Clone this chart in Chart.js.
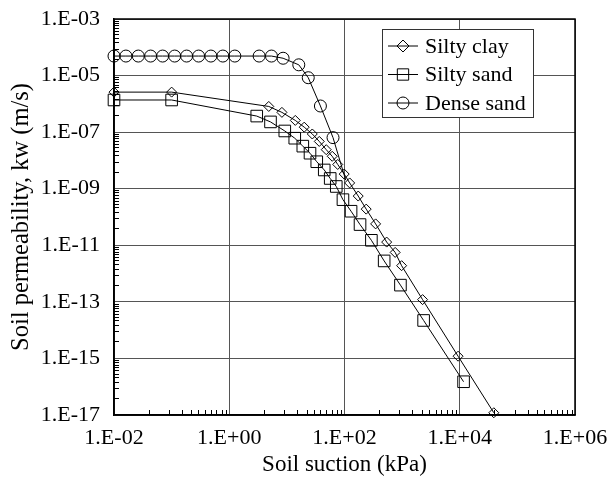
<!DOCTYPE html>
<html>
<head>
<meta charset="utf-8">
<title>Soil permeability vs soil suction</title>
<script src="https://cdn.jsdelivr.net/npm/chart.js@4/dist/chart.umd.min.js"></script>
<style>
  html, body { margin: 0; padding: 0; background: #fff; }
  #wrap { width: 609px; height: 480px; }
</style>
</head>
<body>
<div id="wrap"><canvas id="permChart"></canvas></div>
<script>
// values (suction in kPa, kw in m/s)
const clayX = [0.01, 0.1, 4.85, 8.2, 14, 20, 27.6, 36.5, 48.2, 61.2, 76.3, 98.8, 123, 173, 238, 347, 539, 757, 980, 2265, 9350, 39000];
const clayY = [2.6e-6, 2.6e-6, 8.1e-7, 5.0e-7, 2.6e-7, 1.5e-7, 8.6e-8, 4.7e-8, 2.4e-8, 1.4e-8, 7.2e-9, 3.3e-9, 1.6e-9, 5.5e-10, 1.9e-10, 5.7e-11, 1.3e-11, 5.6e-12, 1.9e-12, 1.2e-13, 1.2e-15, 1.2e-17];

const sandX = [0.01, 0.1, 3.0, 5.2, 9.2, 13.7, 18.9, 25.2, 33, 44.5, 56.5, 72, 94, 130, 186, 293, 488, 935, 2360, 11650];
const sandY = [1.37e-6, 1.37e-6, 3.7e-7, 2.3e-7, 1.1e-7, 6.1e-8, 3.2e-8, 1.8e-8, 9.0e-9, 4.6e-9, 2.3e-9, 1.2e-9, 4.1e-10, 1.6e-10, 5.4e-11, 1.5e-11, 2.8e-12, 3.9e-13, 2.2e-14, 1.5e-16];

const denseX = [0.01, 0.0161, 0.0264, 0.0432, 0.0698, 0.113, 0.182, 0.294, 0.48, 0.775, 1.25, 3.3, 5.4, 8.6, 16.1, 23.5, 38.2, 63.2, 105];
const denseY = [4.9e-5, 4.9e-5, 4.9e-5, 4.9e-5, 4.9e-5, 4.9e-5, 4.9e-5, 4.9e-5, 4.9e-5, 4.9e-5, 4.9e-5, 4.9e-5, 4.9e-5, 4.1e-5, 2.4e-5, 8.4e-6, 8.4e-7, 6.4e-8, 2.0e-9];

const xTicks = [1e-2, 1e0, 1e2, 1e4, 1e6];
const xTickLabels = ['1.E-02', '1.E+00', '1.E+02', '1.E+04', '1.E+06'];
const yTicks = [1e-17, 1e-15, 1e-13, 1e-11, 1e-9, 1e-7, 1e-5, 1e-3];
const yTickLabels = ['1.E-17', '1.E-15', '1.E-13', '1.E-11', '1.E-09', '1.E-07', '1.E-05', '1.E-03'];
// minor tick multipliers inside each two-decade step
const minorSteps = [4, 9, 15, 22, 29, 38, 48, 60, 74, 87];

const FONT = 'Liberation Serif';

function toPoints(xs, ys) {
    return xs.map((x, i) => ({ x: x, y: ys[i] }));
}

function labelFor(ticks, labels, value) {
    const i = ticks.findIndex(t => Math.abs(Math.log10(t) - Math.log10(value)) < 1e-6);
    return i >= 0 ? labels[i] : '';
}

function drawMarker(ctx, style, r, x, y) {
    ctx.beginPath();
    if (style === 'circle') {
        ctx.arc(x, y, r, 0, Math.PI * 2);
    } else if (style === 'rect') {
        const s = r * Math.SQRT1_2;
        ctx.rect(x - s, y - s, 2 * s, 2 * s);
    } else {
        ctx.moveTo(x - r, y);
        ctx.lineTo(x, y - r);
        ctx.lineTo(x + r, y);
        ctx.lineTo(x, y + r);
        ctx.closePath();
    }
    ctx.stroke();
}

// frame, inward minor ticks and the boxed legend
const decorations = {
    id: 'decorations',
    afterDatasetsDraw(chart) {
        const { ctx, chartArea: a, scales } = chart;
        ctx.save();
        ctx.strokeStyle = '#000';
        ctx.lineWidth = 1;
        ctx.beginPath();
        for (let e = -2; e < 6; e += 2) {
            minorSteps.forEach(m => {
                const px = Math.round(scales.x.getPixelForValue(m * Math.pow(10, e))) + 0.5;
                ctx.moveTo(px, a.bottom);
                ctx.lineTo(px, a.bottom - 5);
            });
        }
        for (let e = -17; e < -3; e += 2) {
            minorSteps.forEach(m => {
                const py = Math.round(scales.y.getPixelForValue(m * Math.pow(10, e))) + 0.5;
                ctx.moveTo(a.left, py);
                ctx.lineTo(a.left + 5, py);
            });
        }
        ctx.stroke();

        ctx.lineWidth = 1.5;
        ctx.strokeRect(a.left, a.top, a.right - a.left, a.bottom - a.top);

        // legend
        const box = { x: 382, y: 29, w: 151, h: 88 };
        ctx.fillStyle = '#fff';
        ctx.fillRect(box.x, box.y, box.w, box.h);
        ctx.lineWidth = 1;
        ctx.strokeStyle = '#333';
        ctx.strokeRect(box.x + 0.5, box.y + 0.5, box.w, box.h);
        ctx.strokeStyle = '#000';
        ctx.font = '22px "' + FONT + '"';
        ctx.textBaseline = 'middle';
        ctx.fillStyle = '#000';
        chart.data.datasets.forEach((ds, i) => {
            const yy = box.y + 17 + i * 28.5;
            ctx.beginPath();
            ctx.moveTo(box.x + 6, yy);
            ctx.lineTo(box.x + 36, yy);
            ctx.stroke();
            drawMarker(ctx, ds.pointStyle, ds.legendRadius, box.x + 21, yy);
            ctx.fillText(ds.label, box.x + 43, yy + 1);
        });
        ctx.restore();
    }
};

const common = {
    borderColor: '#000',
    borderWidth: 1,
    backgroundColor: 'rgba(0,0,0,0)',
    pointBorderColor: '#000',
    pointBackgroundColor: 'rgba(0,0,0,0)',
    pointBorderWidth: 1,
    tension: 0,
    clip: false
};

function noEdgePadding(s) {
    s.paddingLeft = 0;
    s.paddingRight = 0;
    s.paddingTop = 0;
    s.paddingBottom = 0;
}

new Chart(document.getElementById('permChart'), {
    type: 'line',
    data: {
        datasets: [
            Object.assign({}, common, {
                label: 'Silty clay',
                data: toPoints(clayX, clayY),
                pointStyle: 'rectRot',
                pointRadius: 5,
                legendRadius: 6
            }),
            Object.assign({}, common, {
                label: 'Silty sand',
                data: toPoints(sandX, sandY),
                pointStyle: 'rect',
                pointRadius: 8.2,
                legendRadius: 8
            }),
            Object.assign({}, common, {
                label: 'Dense sand',
                data: toPoints(denseX, denseY),
                pointStyle: 'circle',
                pointRadius: ctx => ctx.dataIndex === denseX.length - 1 ? 0 : 6,
                legendRadius: 6
            })
        ]
    },
    options: {
        responsive: true,
        maintainAspectRatio: false,
        animation: false,
        devicePixelRatio: 1,
        layout: { padding: { top: 19, right: 34, left: 0, bottom: 0 } },
        plugins: {
            legend: { display: false },
            tooltip: { enabled: false }
        },
        scales: {
            x: {
                type: 'logarithmic',
                min: 1e-2,
                max: 1e6,
                afterBuildTicks: s => { s.ticks = xTicks.map(v => ({ value: v })); },
                afterFit: s => { s.height = 65; noEdgePadding(s); },
                grid: { color: '#555', lineWidth: 1, drawTicks: false },
                border: { color: '#000', width: 1.5 },
                ticks: {
                    autoSkip: false,
                    maxRotation: 0,
                    padding: 10,
                    color: '#000',
                    font: { family: FONT, size: 22 },
                    callback: v => labelFor(xTicks, xTickLabels, v)
                },
                title: {
                    display: true,
                    text: 'Soil suction (kPa)',
                    color: '#000',
                    font: { family: FONT, size: 23 },
                    padding: { top: 0, bottom: 1 }
                }
            },
            y: {
                type: 'logarithmic',
                min: 1e-17,
                max: 1e-3,
                afterBuildTicks: s => { s.ticks = yTicks.map(v => ({ value: v })); },
                afterFit: s => { s.width = 114; noEdgePadding(s); },
                grid: { color: '#555', lineWidth: 1, drawTicks: false },
                border: { color: '#000', width: 1.5 },
                ticks: {
                    autoSkip: false,
                    padding: 14,
                    color: '#000',
                    font: { family: FONT, size: 22 },
                    callback: v => labelFor(yTicks, yTickLabels, v)
                },
                title: {
                    display: true,
                    text: 'Soil permeability, kw (m/s)',
                    color: '#000',
                    font: { family: FONT, size: 24.5 },
                    padding: { top: 7, bottom: 0 }
                }
            }
        }
    },
    plugins: [decorations]
});
</script>
</body>
</html>
